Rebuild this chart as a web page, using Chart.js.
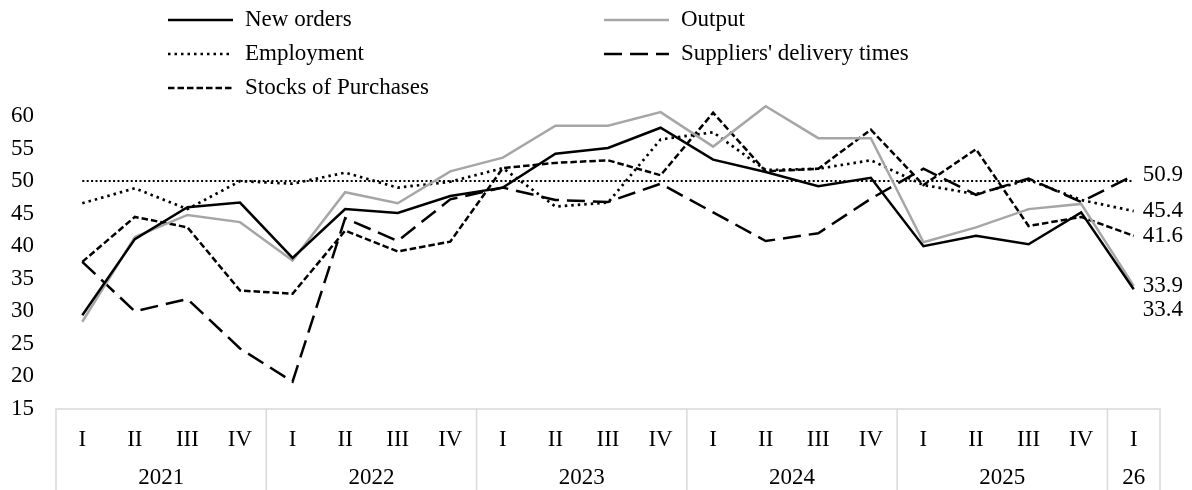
<!DOCTYPE html>
<html>
<head>
<meta charset="utf-8">
<script src="https://cdn.jsdelivr.net/npm/chart.js@4/dist/chart.umd.min.js"></script>
<style>
  html, body { margin: 0; padding: 0; background: #fff; }
  #wrap { width: 1192px; height: 490px; }
</style>
</head>
<body>
<div id="wrap"><canvas id="pmiChart" width="1192" height="490"></canvas></div>
<script>
// quarters and years on the axis
const quarters = ["I", "II", "III", "IV", "I", "II", "III", "IV", "I", "II", "III", "IV",
  "I", "II", "III", "IV", "I", "II", "III", "IV", "I"];
const years = ["2021", "2022", "2023", "2024", "2025", "26"];
const yearSpans = [4, 4, 4, 4, 4, 1];

// series values
const newOrders = [29.4, 41.1, 46.0, 46.7, 38.2, 45.7, 45.1, 47.7, 49.0, 54.2, 55.1,
  58.2, 53.3, 51.4, 49.2, 50.5, 40.0, 41.6, 40.3, 45.2, 33.4];
const output = [28.4, 41.4, 44.8, 43.7, 37.8, 48.3, 46.6, 51.5, 53.6, 58.5, 58.5,
  60.6, 55.3, 61.5, 56.6, 56.6, 40.6, 42.9, 45.7, 46.5, 33.9];
const employment = [46.6, 48.9, 45.7, 50.0, 49.6, 51.3, 49.0, 49.9, 52.0, 46.1, 46.7,
  56.4, 57.5, 51.7, 51.9, 53.2, 49.4, 48.0, 50.2, 47.1, 45.4];
const suppliers = [37.6, 30.0, 31.9, 24.3, 19.2, 44.3, 40.8, 47.2, 49.0, 47.1, 46.8,
  49.6, 45.2, 40.8, 42.0, 47.3, 51.9, 47.9, 50.4, 46.8, 50.9];
const stocks = [37.6, 44.5, 42.9, 33.2, 32.7, 42.4, 39.2, 40.7, 52.0, 52.8, 53.2,
  50.9, 60.5, 51.5, 51.9, 57.9, 49.4, 54.9, 43.1, 44.5, 41.6];

// 50 = no change
const threshold = 50;

const FONT = "'Liberation Serif', 'Times New Roman', serif";
const FSIZE = 23;

// legend slots: [line x0, line x1, text x, y]
const legendSlots = [
  [168, 233, 245, 20],
  [604, 669, 681, 20],
  [168, 233, 245, 54],
  [604, 669, 681, 54],
  [168, 233, 245, 88]
];

// end-label nudges in px (33.4 is pushed below 33.9)
const endNudge = [21, 0, 0, 0, 0];

const pmiPlugin = {
  id: "pmiExtras",
  beforeDatasetsDraw(chart) {
    const { ctx, scales: { x, y } } = chart;
    const yy = y.getPixelForValue(threshold);
    ctx.save();
    ctx.strokeStyle = "#000";
    ctx.lineWidth = 2;
    ctx.setLineDash([2, 2.4]);
    ctx.beginPath();
    ctx.moveTo(x.getPixelForValue(0), yy);
    ctx.lineTo(x.getPixelForValue(quarters.length - 1), yy);
    ctx.stroke();
    ctx.restore();
  },
  afterDraw(chart) {
    const { ctx, chartArea, scales: { x, y } } = chart;
    const band = (x.getPixelForValue(1) - x.getPixelForValue(0));
    const left = x.getPixelForValue(0) - band / 2;
    const right = x.getPixelForValue(quarters.length - 1) + band / 2;
    const top = chartArea.bottom;
    const bottom = chart.height;

    ctx.save();
    // category box
    ctx.strokeStyle = "#d9d9d9";
    ctx.lineWidth = 1.5;
    ctx.beginPath();
    ctx.moveTo(left, bottom);
    ctx.lineTo(left, top);
    ctx.lineTo(right, top);
    ctx.lineTo(right, bottom);
    let idx = 0;
    yearSpans.forEach((n, k) => {
      idx += n;
      if (k < yearSpans.length - 1) {
        const bx = left + idx * band;
        ctx.moveTo(bx, top);
        ctx.lineTo(bx, bottom);
      }
    });
    ctx.stroke();

    ctx.fillStyle = "#000";
    ctx.font = FSIZE + "px " + FONT;
    ctx.textAlign = "center";
    ctx.textBaseline = "middle";
    quarters.forEach((q, i) => {
      ctx.fillText(q, x.getPixelForValue(i), 440);
    });
    idx = 0;
    years.forEach((yr, k) => {
      const cx = left + (idx + yearSpans[k] / 2) * band;
      ctx.fillText(yr, cx, 478);
      idx += yearSpans[k];
    });

    // values at the end of each series
    ctx.textAlign = "left";
    const last = quarters.length - 1;
    chart.data.datasets.forEach((ds, i) => {
      const v = ds.data[last];
      ctx.fillText(v.toFixed(1), x.getPixelForValue(last) + 9, y.getPixelForValue(v) + endNudge[i]);
    });

    // legend
    chart.data.datasets.forEach((ds, i) => {
      const [x0, x1, tx, ly] = legendSlots[i];
      ctx.strokeStyle = ds.borderColor;
      ctx.lineWidth = ds.borderWidth;
      ctx.setLineDash(ds.borderDash || []);
      ctx.beginPath();
      ctx.moveTo(x0, ly);
      ctx.lineTo(x1, ly);
      ctx.stroke();
      ctx.fillText(ds.label, tx, ly);
    });
    ctx.restore();
  }
};

new Chart(document.getElementById("pmiChart"), {
  type: "line",
  data: {
    labels: quarters,
    datasets: [
      { label: "New orders", data: newOrders, borderColor: "#000", borderWidth: 2.5 },
      { label: "Output", data: output, borderColor: "#a6a6a6", borderWidth: 2.5 },
      { label: "Employment", data: employment, borderColor: "#000", borderWidth: 2.7, borderDash: [2.5, 4] },
      { label: "Suppliers' delivery times", data: suppliers, borderColor: "#000", borderWidth: 2.5, borderDash: [18, 8] },
      { label: "Stocks of Purchases", data: stocks, borderColor: "#000", borderWidth: 2.5, borderDash: [6.5, 3] }
    ]
  },
  options: {
    responsive: false,
    animation: false,
    events: [],
    layout: { padding: { top: 116, right: 32, bottom: 0, left: 0 } },
    elements: { point: { radius: 0 }, line: { tension: 0, borderCapStyle: "butt", borderJoinStyle: "miter" } },
    datasets: { line: { clip: false } },
    plugins: { legend: { display: false }, tooltip: { enabled: false } },
    scales: {
      x: {
        offset: true,
        grid: { display: false, drawTicks: false },
        border: { display: false },
        ticks: { display: false },
        afterFit: s => { s.height = 81; }
      },
      y: {
        min: 15,
        max: 60,
        grid: { display: false, drawTicks: false },
        border: { display: false },
        ticks: {
          stepSize: 5,
          padding: 22,
          color: "#000",
          font: { family: FONT, size: FSIZE }
        },
        afterFit: s => { s.width = 56; }
      }
    }
  },
  plugins: [pmiPlugin]
});
</script>
</body>
</html>
